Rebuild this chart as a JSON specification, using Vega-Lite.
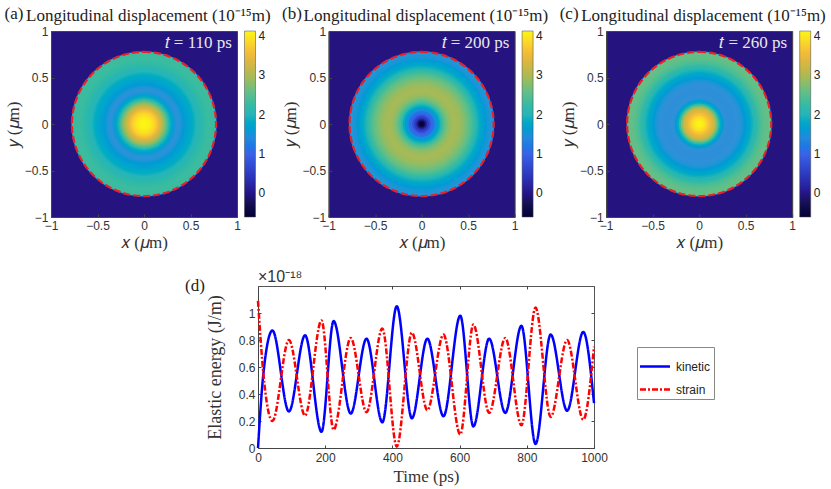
{
  "$schema": "https://vega.github.io/schema/vega-lite/v6.json",
  "padding": {"left": 3, "top": 4, "right": 3, "bottom": 3},
  "background": "white",
  "spacing": 17,
  "resolve": {"scale": {"color": "independent", "strokeDash": "independent", "fill": "independent"}, "legend": {"color": "independent", "strokeDash": "independent", "fill": "independent"}},
  "config": {
    "view": {"stroke": "#444444", "fill": "#25147f"},
    "axis": {"grid": false, "labelFont": "Liberation Sans", "labelFontSize": 12, "labelColor": "#333333", "labelOverlap": false, "labelFlush": false, "titleFont": "Liberation Serif", "titleFontSize": 17, "titleFontWeight": "normal", "titleColor": "#333333", "tickColor": "#444444", "tickSize": -3, "domainColor": "#444444", "labelPadding": 4},
    "title": {"font": "Liberation Serif", "fontSize": 17, "fontWeight": "normal", "color": "#222222", "anchor": "start", "frame": "group", "dx": -25, "dy": 10, "offset": -10},
    "legend": {"labelFont": "Liberation Sans", "labelFontSize": 12, "labelColor": "#222222"}
  },
  "datasets": {
    "ringsA": [
      {"r":0.782,"v":1.3},{"r":0.775,"v":2.3},{"r":0.76,"v":2.3},{"r":0.74,"v":2.3},{"r":0.72,"v":2.29},{"r":0.7,"v":2.28},{"r":0.68,"v":2.25},{"r":0.66,"v":2.22},{"r":0.64,"v":2.17},{"r":0.62,"v":2.12},{"r":0.6,"v":2.07},{"r":0.58,"v":2.02},{"r":0.56,"v":1.96},{"r":0.54,"v":1.9},{"r":0.52,"v":1.84},{"r":0.5,"v":1.78},{"r":0.48,"v":1.72},{"r":0.46,"v":1.67},{"r":0.44,"v":1.62},{"r":0.42,"v":1.58},{"r":0.4,"v":1.54},{"r":0.38,"v":1.52},{"r":0.36,"v":1.53},{"r":0.34,"v":1.58},{"r":0.32,"v":1.7},{"r":0.3,"v":1.88},{"r":0.28,"v":2.1},{"r":0.26,"v":2.4},{"r":0.24,"v":2.7},{"r":0.22,"v":2.95},{"r":0.2,"v":3.15},{"r":0.18,"v":3.35},{"r":0.16,"v":3.55},{"r":0.14,"v":3.72},{"r":0.12,"v":3.85},{"r":0.1,"v":3.95},{"r":0.08,"v":4.03},{"r":0.06,"v":4.08},{"r":0.04,"v":4.12},{"r":0.02,"v":4.13}
    ],
    "ringsB": [
      {"r":0.782,"v":1.3},{"r":0.775,"v":1.55},{"r":0.76,"v":1.55},{"r":0.74,"v":1.56},{"r":0.72,"v":1.58},{"r":0.7,"v":1.62},{"r":0.68,"v":1.68},{"r":0.66,"v":1.75},{"r":0.64,"v":1.85},{"r":0.62,"v":1.95},{"r":0.6,"v":2.07},{"r":0.58,"v":2.2},{"r":0.56,"v":2.33},{"r":0.54,"v":2.45},{"r":0.52,"v":2.55},{"r":0.5,"v":2.65},{"r":0.48,"v":2.73},{"r":0.46,"v":2.8},{"r":0.44,"v":2.86},{"r":0.42,"v":2.9},{"r":0.4,"v":2.93},{"r":0.38,"v":2.95},{"r":0.36,"v":2.95},{"r":0.34,"v":2.92},{"r":0.32,"v":2.87},{"r":0.3,"v":2.8},{"r":0.28,"v":2.68},{"r":0.26,"v":2.52},{"r":0.24,"v":2.35},{"r":0.22,"v":2.1},{"r":0.2,"v":1.9},{"r":0.18,"v":1.65},{"r":0.16,"v":1.4},{"r":0.14,"v":1.2},{"r":0.12,"v":1.0},{"r":0.1,"v":0.75},{"r":0.08,"v":0.5},{"r":0.06,"v":0.25},{"r":0.05,"v":0.05},{"r":0.04,"v":-0.2},{"r":0.03,"v":-0.45},{"r":0.02,"v":-0.6}
    ],
    "ringsC": [
      {"r":0.782,"v":1.3},{"r":0.775,"v":2.6},{"r":0.76,"v":2.6},{"r":0.74,"v":2.58},{"r":0.72,"v":2.55},{"r":0.7,"v":2.5},{"r":0.68,"v":2.43},{"r":0.66,"v":2.35},{"r":0.64,"v":2.25},{"r":0.62,"v":2.15},{"r":0.6,"v":2.05},{"r":0.58,"v":1.95},{"r":0.56,"v":1.85},{"r":0.54,"v":1.76},{"r":0.52,"v":1.68},{"r":0.5,"v":1.62},{"r":0.48,"v":1.57},{"r":0.46,"v":1.54},{"r":0.44,"v":1.52},{"r":0.42,"v":1.5},{"r":0.4,"v":1.49},{"r":0.38,"v":1.48},{"r":0.36,"v":1.48},{"r":0.34,"v":1.48},{"r":0.32,"v":1.49},{"r":0.3,"v":1.5},{"r":0.28,"v":1.54},{"r":0.26,"v":1.65},{"r":0.24,"v":1.85},{"r":0.22,"v":2.2},{"r":0.2,"v":2.7},{"r":0.18,"v":3.1},{"r":0.16,"v":3.3},{"r":0.14,"v":3.45},{"r":0.12,"v":3.6},{"r":0.1,"v":3.75},{"r":0.08,"v":3.9},{"r":0.06,"v":4.0},{"r":0.04,"v":4.08},{"r":0.02,"v":4.12}
    ],
    "energy": [
      {"t":0,"s":"kinetic","E":0},{"t":16,"s":"kinetic","E":0.55},{"t":43,"s":"kinetic","E":0.87},{"t":92,"s":"kinetic","E":0.27},{"t":140,"s":"kinetic","E":0.835},{"t":189,"s":"kinetic","E":0.12},{"t":225,"s":"kinetic","E":0.94},{"t":276,"s":"kinetic","E":0.255},{"t":323,"s":"kinetic","E":0.81},{"t":370,"s":"kinetic","E":0.19},{"t":413,"s":"kinetic","E":1.05},{"t":458,"s":"kinetic","E":0.22},{"t":504,"s":"kinetic","E":0.81},{"t":552,"s":"kinetic","E":0.235},{"t":602,"s":"kinetic","E":0.98},{"t":641,"s":"kinetic","E":0.16},{"t":688,"s":"kinetic","E":0.81},{"t":736,"s":"kinetic","E":0.26},{"t":784,"s":"kinetic","E":0.905},{"t":826,"s":"kinetic","E":0.03},{"t":871,"s":"kinetic","E":0.84},{"t":920,"s":"kinetic","E":0.276},{"t":968,"s":"kinetic","E":0.86},{"t":1000,"s":"kinetic","E":0.333},
      {"t":0,"s":"strain","E":1.09},{"t":16,"s":"strain","E":0.55},{"t":43,"s":"strain","E":0.2},{"t":92,"s":"strain","E":0.8},{"t":140,"s":"strain","E":0.24},{"t":189,"s":"strain","E":0.945},{"t":225,"s":"strain","E":0.135},{"t":276,"s":"strain","E":0.815},{"t":323,"s":"strain","E":0.265},{"t":370,"s":"strain","E":0.885},{"t":413,"s":"strain","E":0.01},{"t":458,"s":"strain","E":0.855},{"t":504,"s":"strain","E":0.28},{"t":552,"s":"strain","E":0.84},{"t":602,"s":"strain","E":0.1},{"t":641,"s":"strain","E":0.915},{"t":688,"s":"strain","E":0.26},{"t":736,"s":"strain","E":0.815},{"t":784,"s":"strain","E":0.168},{"t":826,"s":"strain","E":1.04},{"t":871,"s":"strain","E":0.23},{"t":920,"s":"strain","E":0.8},{"t":968,"s":"strain","E":0.21},{"t":1000,"s":"strain","E":0.75}
    ]
  },
  "vconcat": [
    {
      "bounds": "flush",
      "spacing": 91.6,
      "resolve": {"scale": {"fill": "independent"}, "legend": {"fill": "independent"}},
      "hconcat": [
        {
          "width": 186, "height": 186,
          "title": "Longitudinal displacement (10⁻¹⁵m)",
          "layer": [
            {
              "data": {"name": "ringsA"},
              "mark": {"type": "arc", "theta": 0, "theta2": 6.2832},
              "encoding": {
                "radius": {"field": "r", "type": "quantitative", "stack": false, "scale": {"type": "linear", "domain": [0, 1], "range": [0, 93]}},
                "fill": {"field": "v", "type": "quantitative", "scale": {"domain": [-0.61, -0.3, 0, 0.5, 1, 1.5, 2, 2.3, 2.6, 3, 3.5, 4.13], "range": ["#000000", "#14104a", "#25148a", "#2c3bc4", "#3a63e8", "#3190d8", "#27b4b8", "#3cbc9e", "#66bf85", "#b0b853", "#f0b53c", "#fbf514"]}, "legend": {"orient": "none", "legendX": 193.5, "legendY": 0, "gradientLength": 186, "gradientThickness": 11, "title": null, "values": [0, 1, 2, 3, 4], "gradientStrokeColor": "#444444", "gradientStrokeWidth": 0.5, "labelOffset": 3}}
              }
            },
            {
              "data": {"values": [{"r": 0.775}]},
              "mark": {"type": "arc", "theta": 0, "theta2": 6.2832, "fill": null, "stroke": "#e8202a", "strokeWidth": 2.2, "strokeDash": [7, 3]},
              "encoding": {"radius": {"field": "r", "type": "quantitative", "stack": false, "scale": {"type": "linear", "domain": [0, 1], "range": [0, 93]}}}
            },
            {
              "data": {"values": [{"label": "𝑡 = 110 ps"}]},
              "mark": {"type": "text", "font": "Liberation Serif", "fontSize": 17, "color": "#e8e8e8", "align": "right"},
              "encoding": {
                "x": {"datum": 0.945, "type": "quantitative", "scale": {"domain": [-1, 1]}, "axis": {"values": [-1, -0.5, 0, 0.5, 1], "title": "𝑥 (𝜇m)", "labelPadding": 6, "titlePadding": 3, "format": "~g"}},
                "y": {"datum": 0.875, "type": "quantitative", "scale": {"domain": [-1, 1]}, "axis": {"values": [-1, -0.5, 0, 0.5, 1], "title": "𝑦 (𝜇m)", "labelPadding": 6, "titlePadding": 2, "format": "~g"}},
                "text": {"field": "label"}
              }
            },
            {
              "data": {"values": [{"tag": "(a)"}]},
              "mark": {"type": "text", "font": "Liberation Serif", "fontSize": 17, "color": "#222222", "align": "left"},
              "encoding": {"x": {"datum": -1.5}, "y": {"datum": 1.18}, "text": {"field": "tag"}}
            }
          ]
        },
        {
          "width": 186, "height": 186,
          "title": "Longitudinal displacement (10⁻¹⁵m)",
          "layer": [
            {
              "data": {"name": "ringsB"},
              "mark": {"type": "arc", "theta": 0, "theta2": 6.2832},
              "encoding": {
                "radius": {"field": "r", "type": "quantitative", "stack": false, "scale": {"type": "linear", "domain": [0, 1], "range": [0, 93]}},
                "fill": {"field": "v", "type": "quantitative", "scale": {"domain": [-0.61, -0.3, 0, 0.5, 1, 1.5, 2, 2.3, 2.6, 3, 3.5, 4.13], "range": ["#000000", "#14104a", "#25148a", "#2c3bc4", "#3a63e8", "#3190d8", "#27b4b8", "#3cbc9e", "#66bf85", "#b0b853", "#f0b53c", "#fbf514"]}, "legend": {"orient": "none", "legendX": 193.5, "legendY": 0, "gradientLength": 186, "gradientThickness": 11, "title": null, "values": [0, 1, 2, 3, 4], "gradientStrokeColor": "#444444", "gradientStrokeWidth": 0.5, "labelOffset": 3}}
              }
            },
            {
              "data": {"values": [{"r": 0.775}]},
              "mark": {"type": "arc", "theta": 0, "theta2": 6.2832, "fill": null, "stroke": "#e8202a", "strokeWidth": 2.2, "strokeDash": [7, 3]},
              "encoding": {"radius": {"field": "r", "type": "quantitative", "stack": false, "scale": {"type": "linear", "domain": [0, 1], "range": [0, 93]}}}
            },
            {
              "data": {"values": [{"label": "𝑡 = 200 ps"}]},
              "mark": {"type": "text", "font": "Liberation Serif", "fontSize": 17, "color": "#e8e8e8", "align": "right"},
              "encoding": {
                "x": {"datum": 0.945, "type": "quantitative", "scale": {"domain": [-1, 1]}, "axis": {"values": [-1, -0.5, 0, 0.5, 1], "title": "𝑥 (𝜇m)", "labelPadding": 6, "titlePadding": 3, "format": "~g"}},
                "y": {"datum": 0.875, "type": "quantitative", "scale": {"domain": [-1, 1]}, "axis": {"values": [-1, -0.5, 0, 0.5, 1], "title": "𝑦 (𝜇m)", "labelPadding": 6, "titlePadding": 2, "format": "~g"}},
                "text": {"field": "label"}
              }
            },
            {
              "data": {"values": [{"tag": "(b)"}]},
              "mark": {"type": "text", "font": "Liberation Serif", "fontSize": 17, "color": "#222222", "align": "left"},
              "encoding": {"x": {"datum": -1.5}, "y": {"datum": 1.18}, "text": {"field": "tag"}}
            }
          ]
        },
        {
          "width": 186, "height": 186,
          "title": "Longitudinal displacement (10⁻¹⁵m)",
          "layer": [
            {
              "data": {"name": "ringsC"},
              "mark": {"type": "arc", "theta": 0, "theta2": 6.2832},
              "encoding": {
                "radius": {"field": "r", "type": "quantitative", "stack": false, "scale": {"type": "linear", "domain": [0, 1], "range": [0, 93]}},
                "fill": {"field": "v", "type": "quantitative", "scale": {"domain": [-0.61, -0.3, 0, 0.5, 1, 1.5, 2, 2.3, 2.6, 3, 3.5, 4.13], "range": ["#000000", "#14104a", "#25148a", "#2c3bc4", "#3a63e8", "#3190d8", "#27b4b8", "#3cbc9e", "#66bf85", "#b0b853", "#f0b53c", "#fbf514"]}, "legend": {"orient": "none", "legendX": 193.5, "legendY": 0, "gradientLength": 186, "gradientThickness": 11, "title": null, "values": [0, 1, 2, 3, 4], "gradientStrokeColor": "#444444", "gradientStrokeWidth": 0.5, "labelOffset": 3}}
              }
            },
            {
              "data": {"values": [{"r": 0.775}]},
              "mark": {"type": "arc", "theta": 0, "theta2": 6.2832, "fill": null, "stroke": "#e8202a", "strokeWidth": 2.2, "strokeDash": [7, 3]},
              "encoding": {"radius": {"field": "r", "type": "quantitative", "stack": false, "scale": {"type": "linear", "domain": [0, 1], "range": [0, 93]}}}
            },
            {
              "data": {"values": [{"label": "𝑡 = 260 ps"}]},
              "mark": {"type": "text", "font": "Liberation Serif", "fontSize": 17, "color": "#e8e8e8", "align": "right"},
              "encoding": {
                "x": {"datum": 0.945, "type": "quantitative", "scale": {"domain": [-1, 1]}, "axis": {"values": [-1, -0.5, 0, 0.5, 1], "title": "𝑥 (𝜇m)", "labelPadding": 6, "titlePadding": 3, "format": "~g"}},
                "y": {"datum": 0.875, "type": "quantitative", "scale": {"domain": [-1, 1]}, "axis": {"values": [-1, -0.5, 0, 0.5, 1], "title": "𝑦 (𝜇m)", "labelPadding": 6, "titlePadding": 2, "format": "~g"}},
                "text": {"field": "label"}
              }
            },
            {
              "data": {"values": [{"tag": "(c)"}]},
              "mark": {"type": "text", "font": "Liberation Serif", "fontSize": 17, "color": "#222222", "align": "left"},
              "encoding": {"x": {"datum": -1.5}, "y": {"datum": 1.18}, "text": {"field": "tag"}}
            }
          ]
        }
      ]
    },
    {
      "bounds": "flush",
      "spacing": 0,
      "resolve": {"scale": {"color": "independent", "strokeDash": "independent"}, "legend": {"color": "independent", "strokeDash": "independent"}},
      "hconcat": [
        {
          "width": 207, "height": 162,
          "view": {"stroke": null, "fill": null},
          "data": {"values": []},
          "mark": {"type": "text"},
          "encoding": {}
        },
        {
          "width": 336, "height": 162,
          "view": {"fill": "white", "stroke": "#555555"},
          "resolve": {"axis": {"x": "independent", "y": "independent"}},
          "layer": [
            {
              "data": {"name": "energy"},
              "mark": {"type": "line", "interpolate": "monotone", "strokeWidth": 2.5},
              "encoding": {
                "x": {"field": "t", "type": "quantitative", "scale": {"domain": [0, 1000]}, "axis": {"values": [0, 200, 400, 600, 800, 1000], "title": "Time (ps)", "labelPadding": 7, "titlePadding": 5, "format": "d"}},
                "y": {"field": "E", "type": "quantitative", "scale": {"domain": [0, 1.2]}, "axis": {"values": [0, 0.2, 0.4, 0.6, 0.8, 1], "title": "Elastic energy (J/m)", "titleFontSize": 18, "labelPadding": 6, "titlePadding": 14, "format": "~g"}},
                "color": {"field": "s", "type": "nominal", "scale": {"domain": ["kinetic", "strain"], "range": ["#0000ff", "#ff0000"]}, "legend": {"orient": "none", "legendX": 379, "legendY": 61, "title": null, "strokeColor": "#888888", "padding": 3, "symbolType": "stroke", "symbolSize": 100, "symbolStrokeWidth": 2.5, "labelOffset": 3, "rowPadding": -8, "encoding": {"symbols": {"size": {"value": 900}, "x": {"value": 15}}}}},
                "strokeDash": {"field": "s", "type": "nominal", "scale": {"domain": ["kinetic", "strain"], "range": [[1, 0], [6, 2, 2, 2]]}, "legend": null}
              }
            },
            {
              "data": {"values": [{"label": "×10⁻¹⁸"}]},
              "mark": {"type": "text", "font": "Liberation Sans", "fontSize": 16, "color": "#333333", "align": "left"},
              "encoding": {
                "x": {"datum": 0, "type": "quantitative", "axis": {"orient": "top", "labels": false, "title": null, "domain": false, "values": [0, 200, 400, 600, 800, 1000]}},
                "y": {"datum": 1.27, "type": "quantitative", "axis": {"orient": "right", "labels": false, "title": null, "domain": false, "values": [0, 0.2, 0.4, 0.6, 0.8, 1]}},
                "text": {"field": "label"}
              }
            },
            {
              "data": {"values": [{"tag": "(d)"}]},
              "mark": {"type": "text", "font": "Liberation Serif", "fontSize": 17, "color": "#222222", "align": "left"},
              "encoding": {"x": {"datum": -217, "axis": null}, "y": {"datum": 1.2, "axis": null}, "text": {"field": "tag"}}
            }
          ]
        }
      ]
    }
  ]
}
